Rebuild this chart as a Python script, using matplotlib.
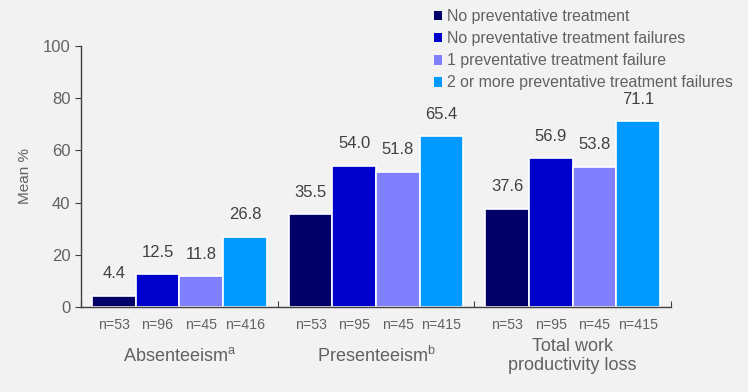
import matplotlib
matplotlib.use("Agg")
from matplotlib import pyplot as plt
from matplotlib.patches import Patch
import numpy as np

plt.rcParams['font.family'] = ['Liberation Sans', 'DejaVu Sans']

groups = ["Absenteeism$^{\\mathregular{a}}$", "Presenteeism$^{\\mathregular{b}}$",
          "Total work\nproductivity loss"]
series = ["No preventative treatment",
          "No preventative treatment failures",
          "1 preventative treatment failure",
          "2 or more preventative treatment failures"]
colors = ["#000066", "#0000cc", "#8080ff", "#0099ff"]

no_treatment = [4.4, 35.5, 37.6]
no_failures = [12.5, 54.0, 56.9]
one_failure = [11.8, 51.8, 53.8]
two_plus_failures = [26.8, 65.4, 71.1]
values = [no_treatment, no_failures, one_failure, two_plus_failures]

n_counts = [
    ["n=53", "n=96", "n=45", "n=416"],
    ["n=53", "n=95", "n=45", "n=415"],
    ["n=53", "n=95", "n=45", "n=415"],
]

bg = "#f2f2f2"
txt = "#616161"

fig = plt.figure(figsize=(7.48, 3.92), dpi=100, facecolor=bg)
ax = fig.add_axes([0.1083, 0.2168, 0.7887, 0.666])
ax.set_facecolor(bg)

x = np.arange(len(groups))
w = 0.222
for i, (vals, col) in enumerate(zip(values, colors)):
    pos = x + (i - 1.5) * w
    ax.bar(pos, vals, width=w, color=col, edgecolor="white", linewidth=1.2)
    for p, v in zip(pos, vals):
        ax.text(p, v + 5.6, f"{v:.1f}", ha="center", va="bottom",
                fontsize=12, color="#404040")
    for g in range(len(groups)):
        ax.text(pos[g], -7, n_counts[g][i], ha="center", va="center",
                fontsize=10.2, color=txt)

for g, name in enumerate(groups):
    ax.text(x[g], -18.8, name, ha="center", va="center", fontsize=13,
            color=txt, linespacing=1.2)

ax.set_xlim(-0.5, 2.5)
ax.set_ylim(0, 100)
ax.set_yticks(np.arange(0, 101, 20))
ax.set_xticks([-0.5, 0.5, 1.5, 2.5])
ax.set_xticklabels([])
ax.tick_params(axis="y", colors="#404040", labelsize=12, length=4, labelcolor=txt)
ax.tick_params(axis="x", direction="in", length=4, colors="#404040")
ax.set_ylabel("Mean %", color=txt, fontsize=11, labelpad=8)

for s in ["top", "right"]:
    ax.spines[s].set_visible(False)
for s in ["left", "bottom"]:
    ax.spines[s].set_color("#404040")
    ax.spines[s].set_linewidth(1.0)

handles = [Patch(facecolor=c, edgecolor="none") for c in colors]
fig.legend(handles, series, loc="upper left", bbox_to_anchor=(0.565, 1.005),
           frameon=False, fontsize=11.4, labelcolor=txt, handlelength=0.55,
           handleheight=0.55, handletextpad=0.3, labelspacing=0.45,
           borderaxespad=0.3)

fig.savefig("out.png", dpi=100, facecolor=bg)
